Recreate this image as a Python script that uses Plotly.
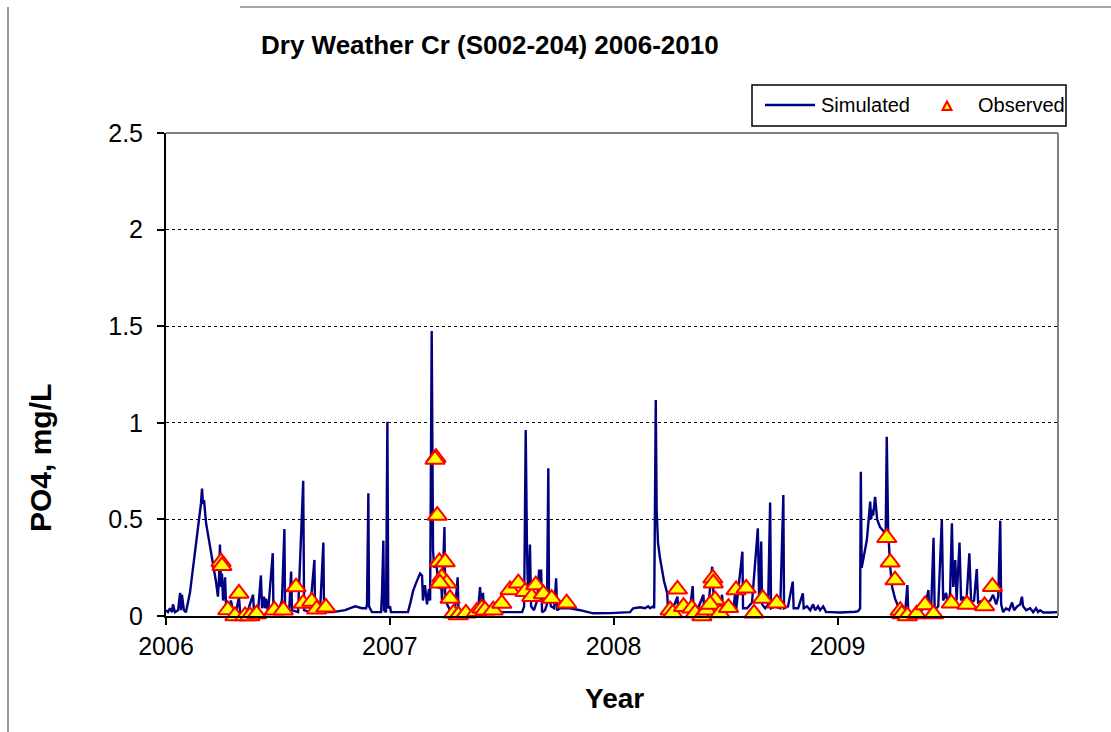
import plotly.graph_objects as go

# ---------------- data (decimal years) ----------------
sim_year = [
    2006.000, 2006.009, 2006.018, 2006.027, 2006.031, 2006.040, 2006.054, 2006.063, 2006.067, 2006.071,
    2006.080, 2006.089, 2006.107, 2006.121, 2006.134, 2006.147, 2006.156, 2006.161, 2006.165, 2006.170,
    2006.179, 2006.188, 2006.197, 2006.206, 2006.214, 2006.223, 2006.232, 2006.237, 2006.241, 2006.246,
    2006.250, 2006.255, 2006.259, 2006.264, 2006.268, 2006.277, 2006.290, 2006.299, 2006.313, 2006.326,
    2006.331, 2006.353, 2006.366, 2006.389, 2006.393, 2006.411, 2006.424, 2006.429, 2006.438, 2006.442,
    2006.447, 2006.456, 2006.477, 2006.480, 2006.500, 2006.518, 2006.529, 2006.532, 2006.550, 2006.559,
    2006.563, 2006.590, 2006.613, 2006.617, 2006.643, 2006.663, 2006.666, 2006.688, 2006.703, 2006.706,
    2006.746, 2006.800, 2006.845, 2006.876, 2006.894, 2006.898, 2006.904, 2006.907, 2006.920, 2006.961,
    2006.965, 2006.971, 2006.974, 2006.983, 2006.989, 2006.993, 2007.001, 2007.005, 2007.046, 2007.081,
    2007.090, 2007.104, 2007.117, 2007.130, 2007.135, 2007.144, 2007.148, 2007.157, 2007.166, 2007.175,
    2007.180, 2007.187, 2007.193, 2007.198, 2007.206, 2007.215, 2007.220, 2007.229, 2007.233, 2007.244,
    2007.247, 2007.256, 2007.269, 2007.291, 2007.303, 2007.307, 2007.340, 2007.358, 2007.394, 2007.403,
    2007.408, 2007.416, 2007.421, 2007.448, 2007.470, 2007.515, 2007.559, 2007.591, 2007.600, 2007.607,
    2007.613, 2007.618, 2007.626, 2007.631, 2007.644, 2007.658, 2007.667, 2007.671, 2007.676, 2007.680,
    2007.693, 2007.702, 2007.708, 2007.711, 2007.720, 2007.734, 2007.743, 2007.747, 2007.761, 2007.783,
    2007.805, 2007.850, 2007.908, 2007.984, 2008.051, 2008.073, 2008.087, 2008.118, 2008.140, 2008.154,
    2008.163, 2008.176, 2008.181, 2008.188, 2008.192, 2008.198, 2008.207, 2008.216, 2008.225, 2008.239,
    2008.243, 2008.252, 2008.265, 2008.285, 2008.288, 2008.319, 2008.341, 2008.353, 2008.357, 2008.377,
    2008.401, 2008.404, 2008.422, 2008.440, 2008.449, 2008.475, 2008.484, 2008.489, 2008.534, 2008.543,
    2008.547, 2008.575, 2008.578, 2008.596, 2008.618, 2008.644, 2008.650, 2008.659, 2008.663, 2008.677,
    2008.690, 2008.699, 2008.703, 2008.721, 2008.744, 2008.758, 2008.761, 2008.779, 2008.800, 2008.804,
    2008.824, 2008.845, 2008.849, 2008.864, 2008.878, 2008.891, 2008.900, 2008.913, 2008.922, 2008.936,
    2008.949, 2008.967, 2009.012, 2009.079, 2009.092, 2009.101, 2009.104, 2009.108, 2009.119, 2009.131,
    2009.137, 2009.146, 2009.150, 2009.155, 2009.159, 2009.168, 2009.177, 2009.190, 2009.205, 2009.215,
    2009.220, 2009.226, 2009.235, 2009.244, 2009.257, 2009.271, 2009.289, 2009.302, 2009.312, 2009.316,
    2009.347, 2009.360, 2009.369, 2009.391, 2009.406, 2009.409, 2009.418, 2009.429, 2009.434, 2009.450,
    2009.466, 2009.472, 2009.485, 2009.494, 2009.503, 2009.511, 2009.517, 2009.526, 2009.532, 2009.545,
    2009.552, 2009.561, 2009.575, 2009.589, 2009.597, 2009.610, 2009.622, 2009.628, 2009.651, 2009.668,
    2009.682, 2009.695, 2009.709, 2009.718, 2009.727, 2009.731, 2009.740, 2009.753, 2009.767, 2009.780,
    2009.789, 2009.803, 2009.816, 2009.824, 2009.829, 2009.843, 2009.861, 2009.874, 2009.887, 2009.896,
    2009.905, 2009.919, 2009.950, 2009.986,
]
sim_po4 = [
    0.03, 0.02, 0.04, 0.02, 0.06, 0.02, 0.03, 0.12, 0.03, 0.11,
    0.03, 0.02, 0.12, 0.25, 0.38, 0.50, 0.58, 0.66, 0.58, 0.60,
    0.48, 0.42, 0.36, 0.30, 0.26, 0.18, 0.10, 0.20, 0.37, 0.15,
    0.22, 0.08, 0.12, 0.20, 0.06, 0.03, 0.08, 0.03, 0.02, 0.10,
    0.02, 0.02, 0.03, 0.11, 0.02, 0.02, 0.21, 0.04, 0.10, 0.04,
    0.09, 0.02, 0.325, 0.03, 0.02, 0.08, 0.45, 0.03, 0.02, 0.23,
    0.03, 0.02, 0.70, 0.03, 0.02, 0.29, 0.03, 0.02, 0.38, 0.02,
    0.02, 0.03, 0.05, 0.04, 0.04, 0.06, 0.635, 0.05, 0.02, 0.02,
    0.12, 0.39, 0.03, 0.02, 1.005, 0.04, 0.05, 0.02, 0.02, 0.02,
    0.06, 0.13, 0.17, 0.20, 0.22, 0.21, 0.08, 0.16, 0.06, 0.14,
    0.08, 1.475, 0.34, 0.25, 0.28, 0.20, 0.14, 0.18, 0.08, 0.46,
    0.12, 0.06, 0.03, 0.03, 0.20, 0.02, 0.02, 0.02, 0.03, 0.15,
    0.04, 0.12, 0.03, 0.03, 0.02, 0.02, 0.02, 0.02, 0.05, 0.963,
    0.32, 0.10, 0.37, 0.05, 0.03, 0.08, 0.24, 0.10, 0.24, 0.02,
    0.03, 0.06, 0.765, 0.10, 0.05, 0.04, 0.195, 0.03, 0.04, 0.04,
    0.04, 0.03, 0.014, 0.015, 0.018, 0.02, 0.04, 0.045, 0.04, 0.05,
    0.04, 0.05, 0.04, 1.118, 0.55, 0.38, 0.30, 0.24, 0.18, 0.12,
    0.03, 0.03, 0.04, 0.10, 0.03, 0.03, 0.04, 0.155, 0.03, 0.04,
    0.11, 0.03, 0.04, 0.255, 0.04, 0.03, 0.11, 0.03, 0.03, 0.12,
    0.03, 0.333, 0.04, 0.04, 0.07, 0.454, 0.08, 0.385, 0.06, 0.04,
    0.06, 0.588, 0.04, 0.05, 0.04, 0.626, 0.04, 0.05, 0.178, 0.04,
    0.04, 0.117, 0.04, 0.05, 0.03, 0.06, 0.03, 0.05, 0.03, 0.05,
    0.02, 0.02, 0.018, 0.022, 0.025, 0.04, 0.747, 0.25, 0.32, 0.393,
    0.47, 0.592, 0.50, 0.55, 0.52, 0.617, 0.50, 0.46, 0.44, 0.40,
    0.928, 0.45, 0.26, 0.15, 0.09, 0.05, 0.02, 0.02, 0.16, 0.02,
    0.02, 0.04, 0.02, 0.05, 0.135, 0.04, 0.03, 0.405, 0.03, 0.05,
    0.50, 0.08, 0.12, 0.05, 0.12, 0.48, 0.15, 0.29, 0.08, 0.38,
    0.08, 0.10, 0.06, 0.324, 0.07, 0.08, 0.243, 0.07, 0.08, 0.07,
    0.08, 0.11, 0.06, 0.10, 0.493, 0.06, 0.02, 0.04, 0.03, 0.07,
    0.03, 0.05, 0.06, 0.10, 0.05, 0.03, 0.04, 0.02, 0.04, 0.02,
    0.03, 0.018, 0.018, 0.02,
]

obs_year = [
    2006.246, 2006.250, 2006.276, 2006.308, 2006.326, 2006.353, 2006.375, 2006.405, 2006.484, 2006.524,
    2006.581, 2006.613, 2006.651, 2006.673, 2006.714,
    2007.206, 2007.202, 2007.212, 2007.221, 2007.247, 2007.232, 2007.254, 2007.224, 2007.269, 2007.284,
    2007.306, 2007.340, 2007.388, 2007.411, 2007.425, 2007.462, 2007.500, 2007.537, 2007.574, 2007.604,
    2007.634, 2007.652, 2007.686, 2007.723, 2007.790,
    2008.285, 2008.252, 2008.264, 2008.312, 2008.349, 2008.364, 2008.394, 2008.416, 2008.443, 2008.445,
    2008.453, 2008.431, 2008.475, 2008.513, 2008.547, 2008.592, 2008.627, 2008.666, 2008.729,
    2009.220, 2009.235, 2009.257, 2009.280, 2009.287, 2009.312, 2009.354, 2009.391, 2009.429, 2009.508,
    2009.578, 2009.657, 2009.692,
]
obs_po4 = [
    0.28, 0.26, 0.031, 0.0, 0.117, 0.0, 0.0, 0.01, 0.03, 0.03,
    0.15, 0.065, 0.075, 0.035, 0.045,
    0.82, 0.81, 0.52, 0.28, 0.28, 0.20, 0.17, 0.17, 0.09, 0.014,
    0.005, 0.014, 0.022, 0.04, 0.03, 0.03, 0.065, 0.135, 0.17, 0.126,
    0.10, 0.16, 0.114, 0.09, 0.066,
    0.138, 0.03, 0.015, 0.048, 0.04, 0.015, 0.0, 0.03, 0.195, 0.17,
    0.083, 0.06, 0.015, 0.043, 0.135, 0.143, 0.014, 0.09, 0.066,
    0.405, 0.278, 0.186, 0.028, 0.01, 0.0, 0.01, 0.057, 0.01, 0.066,
    0.06, 0.052, 0.152,
]

x_tick_vals = [2006, 2007, 2008, 2009]
x_tick_text = ["2006", "2007", "2008", "2009"]
y_tick_vals = [0, 0.5, 1, 1.5, 2, 2.5]
y_tick_text = ["0", "0.5", "1", "1.5", "2", "2.5"]

# ---------------- layout helpers ----------------
FONT = "Liberation Sans, Arial, sans-serif"
W, H = 1111, 732
L, R, T, B = 166, 1058, 133, 616          # plot area edges in page pixels
PW, PH = R - L, B - T


def px(x):
    return (x - L) / PW


def py(y):
    return (B - y) / PH


fig = go.Figure()
fig.add_trace(go.Scatter(
    x=sim_year, y=sim_po4, mode="lines", name="Simulated",
    line=dict(color="#000080", width=2.4), showlegend=False,
))
fig.add_trace(go.Scatter(
    x=obs_year, y=obs_po4, mode="markers", name="Observed", showlegend=False,
    cliponaxis=False,
    marker=dict(symbol="triangle-up", size=17, color="#FFFF00",
                line=dict(color="#FF0000", width=2)),
))

annotations = [
    dict(text="<b>Dry Weather Cr (S002-204) 2006-2010</b>",
         xref="paper", yref="paper", x=px(490), y=py(45),
         xanchor="center", yanchor="middle", showarrow=False,
         font=dict(family=FONT, size=26, color="black")),
    dict(text="<b>PO4, mg/L</b>", textangle=-90,
         xref="paper", yref="paper", x=px(40), y=py(458),
         xanchor="center", yanchor="middle", showarrow=False,
         font=dict(family=FONT, size=30, color="black")),
    dict(text="<b>Year</b>",
         xref="paper", yref="paper", x=px(614), y=py(698),
         xanchor="center", yanchor="middle", showarrow=False,
         font=dict(family=FONT, size=28, color="black")),
    # legend texts
    dict(text="Simulated", xref="paper", yref="paper", x=px(819), y=py(105),
         xanchor="left", yanchor="middle", showarrow=False,
         font=dict(family=FONT, size=20, color="black")),
    dict(text="Observed", xref="paper", yref="paper", x=px(976), y=py(105),
         xanchor="left", yanchor="middle", showarrow=False,
         font=dict(family=FONT, size=20, color="black")),
]

shapes = [
    # gray top/right frame of plot area
    dict(type="line", xref="paper", yref="paper", x0=0, x1=1, y0=1, y1=1,
         line=dict(color="#808080", width=2)),
    dict(type="line", xref="paper", yref="paper", x0=1, x1=1, y0=0, y1=1,
         line=dict(color="#808080", width=2)),
    # outer page edges
    dict(type="line", xref="paper", yref="paper", x0=px(8), x1=px(8), y0=py(732), y1=py(7),
         line=dict(color="#777777", width=1.5)),
    dict(type="line", xref="paper", yref="paper", x0=px(240), x1=px(1111), y0=py(7), y1=py(7),
         line=dict(color="#888888", width=1.5)),
    # legend box and symbols
    dict(type="rect", xref="paper", yref="paper", x0=px(752), x1=px(1066), y0=py(126), y1=py(85),
         line=dict(color="black", width=1.5), fillcolor="white", layer="below"),
    dict(type="line", xref="paper", yref="paper", x0=px(765), x1=px(815), y0=py(105), y1=py(105),
         line=dict(color="#000080", width=2.4)),
    dict(type="path", xref="paper", yref="paper",
         path=f"M {px(942.5)} {py(110)} L {px(951.5)} {py(110)} L {px(947)} {py(101.5)} Z",
         fillcolor="#FFFF00", line=dict(color="#FF0000", width=2)),
]

fig.update_layout(
    width=W, height=H,
    paper_bgcolor="white", plot_bgcolor="white",
    margin=dict(l=L, r=W - R, t=T, b=H - B, pad=0),
    font=dict(family=FONT, size=25, color="black"),
    showlegend=False,
    xaxis=dict(
        range=[2006, 2009.985], tickmode="array",
        tickvals=x_tick_vals, ticktext=x_tick_text,
        showgrid=False, zeroline=False,
        showline=True, linecolor="black", linewidth=2,
        ticks="outside", ticklen=7, tickwidth=1.5, tickcolor="black",
        tickfont=dict(size=25),
    ),
    yaxis=dict(
        range=[0, 2.5], tickmode="array",
        tickvals=y_tick_vals, ticktext=y_tick_text,
        showgrid=True, gridcolor="black", gridwidth=1, griddash="dot",
        zeroline=False,
        showline=True, linecolor="black", linewidth=2,
        ticks="outside", ticklen=7, tickwidth=1.5, tickcolor="black",
        tickfont=dict(size=25), ticklabelstandoff=9,
    ),
    annotations=annotations,
    shapes=shapes,
)

fig.write_html("out.html", config={"displayModeBar": False},
               post_script="document.body.style.margin='0px';")
